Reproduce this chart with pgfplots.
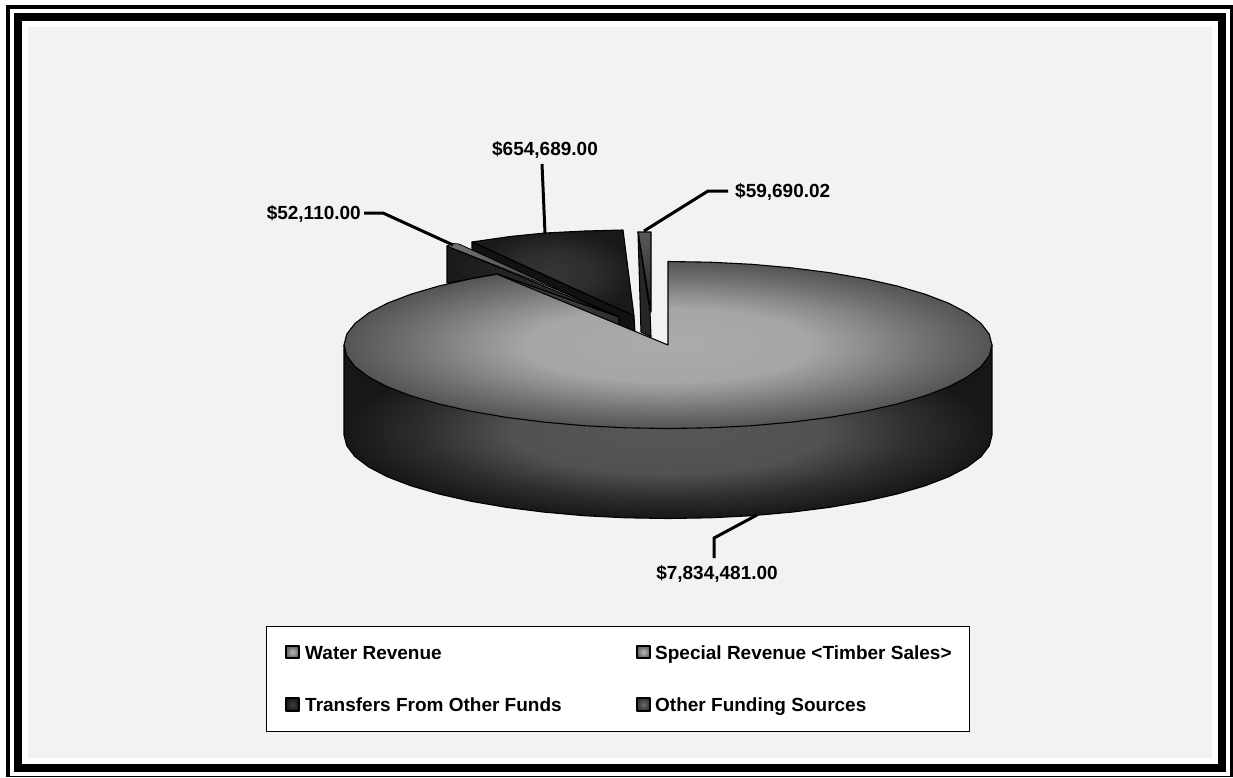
\documentclass[border=0pt]{standalone}
\usepackage{fontspec}
\setmainfont{Liberation Sans}
\usepackage{pgfplots}
\pgfplotsset{compat=1.18}

% gradients of the pie, centre to rim (the path's box reaches 25bp of the shading)
\pgfdeclareradialshading{pietop}{\pgfpointorigin}{gray(0bp)=(0.67); gray(11bp)=(0.65); gray(15bp)=(0.56); gray(20bp)=(0.44); gray(25bp)=(0.33); gray(50bp)=(0.33)}
\pgfdeclareradialshading{pieside}{\pgfpointorigin}{gray(0bp)=(0.34); gray(12bp)=(0.32); gray(19bp)=(0.18); gray(25bp)=(0.09); gray(50bp)=(0.09)}
\pgfdeclareradialshading{darkface}{\pgfpointorigin}{gray(0bp)=(0.21); gray(12bp)=(0.18); gray(25bp)=(0.10); gray(50bp)=(0.10)}
\pgfdeclareradialshading{swa}{\pgfpointorigin}{gray(0bp)=(0.72); gray(25bp)=(0.40); gray(50bp)=(0.40)}
\pgfdeclareradialshading{swc}{\pgfpointorigin}{gray(0bp)=(0.24); gray(25bp)=(0.10); gray(50bp)=(0.10)}
\pgfdeclareradialshading{swd}{\pgfpointorigin}{gray(0bp)=(0.42); gray(25bp)=(0.20); gray(50bp)=(0.20)}

\tikzset{
    outl/.style={draw=black,line width=1.1pt,line join=round},
    lead/.style={draw=black,line width=3pt,line join=miter},
    lab/.style={font=\fontsize{19}{22}\selectfont\bfseries,inner sep=0pt},
}

\begin{document}
\begin{tikzpicture}
\begin{axis}[
    scale only axis,
    width=1233pt,
    height=777pt,
    xmin=0, xmax=1233,
    ymin=0, ymax=777,
    y dir=reverse,
    hide axis,
    clip=true,
]
% frame
\addplot[fill=white,draw=none] coordinates {(0,0) (1233,0) (1233,777) (0,777)} -- cycle;
\addplot[fill=black,draw=none] coordinates {(6,5) (1233,5) (1233,777) (6,777)} -- cycle;
\addplot[fill=white,draw=none] coordinates {(10,9) (1230,9) (1230,776) (10,776)} -- cycle;
\addplot[fill=black,draw=none] coordinates {(14,13) (1226,13) (1226,772) (14,772)} -- cycle;
\addplot[fill=white,draw=none] coordinates {(22,21) (1218,21) (1218,764) (22,764)} -- cycle;
\addplot[fill=black!5,draw=none] coordinates {(28,27) (1212,27) (1212,758) (28,758)} -- cycle;

% Transfers From Other Funds, top face
\addplot[outl,shade,shading=darkface] coordinates {
(472,242) (510,236.5) (545,233) (585,231) (623,230) (634,316)} -- cycle;
% its cut side
\addplot[outl,fill=black!93] coordinates {
(472,242) (472,252) (619,317) (619,327) (635,333) (634,316)} -- cycle;
% Special Revenue, wall
\addplot[outl,left color=black!90,right color=black!78] coordinates {
(447,246) (447,283) (497,274) (619,317)} -- cycle;
\addplot[outl,left color=black!72,right color=black!82] coordinates {
(497,274) (619,317) (619,327)} -- cycle;
% Special Revenue, sliver
\addplot[draw=black,line width=0.8pt,left color=black!55,right color=black!75] coordinates {
(447,246) (453,243.5) (459,244) (575,297)} -- cycle;
% Other Funding Sources
\addplot[outl,top color=black!65,bottom color=black!88] coordinates {
(638,232) (651,232) (651,312)} -- cycle;
\addplot[outl,fill=black!85] coordinates {
(638,232) (650,312) (651,337) (641,332)} -- cycle;

% Water Revenue, side
\addplot[outl,shade,shading=pieside] coordinates {
(344,345) (992,345) (992,435) (989.2,445.9) (981,456.6) (967.3,467) (948.6,476.8)
(925.1,485.8) (897.1,494) (865.3,501.2) (830,507.3) (792,512.1) (751.9,515.7)
(710.3,517.8) (668,518.5) (625.7,517.8) (584.1,515.7) (544,512.1) (506,507.3)
(470.7,501.2) (438.9,494) (410.9,485.8) (387.4,476.8) (368.7,467) (355,456.6)
(346.8,445.9) (344,435)} -- cycle;
% Water Revenue, top face
\addplot[outl,shade,shading=pietop] coordinates {
(668,345) (668,261.5) (710.3,262.2) (751.9,264.3) (792,267.9) (830,272.7)
(865.3,278.8) (897.1,286) (925.1,294.2) (948.6,303.2) (967.3,313) (981,323.4)
(989.2,334.1) (992,345) (989.2,355.9) (981,366.6) (967.3,377) (948.6,386.8)
(925.1,395.8) (897.1,404) (865.3,411.2) (830,417.3) (792,422.1) (751.9,425.7)
(710.3,427.8) (668,428.5) (625.7,427.8) (584.1,425.7) (544,422.1) (506,417.3)
(470.7,411.2) (438.9,404) (410.9,395.8) (387.4,386.8) (368.7,377) (355,366.6)
(346.8,355.9) (344,345) (346.8,334.1) (355,323.4) (368.7,313) (387.4,303.2)
(410.9,294.2) (438.9,286) (470.7,278.8) (497,274.2)} -- cycle;

% leader lines
\addplot[lead] coordinates {(364,213) (383,213) (453,245)};
\addplot[lead] coordinates {(542,164) (545,233)};
\addplot[lead] coordinates {(728,191) (708,191) (644,231)};
\addplot[lead] coordinates {(714,558) (714,538) (757,515)};

% value labels
\node[lab,anchor=east] at (axis cs:361,214) {\$52,110.00};
\node[lab] at (axis cs:545,150) {\$654,689.00};
\node[lab,anchor=west] at (axis cs:735,192) {\$59,690.02};
\node[lab] at (axis cs:717,574) {\$7,834,481.00};

% legend
\addplot[fill=white,draw=black,line width=0.9pt] coordinates {(266,626) (969,626) (969,731) (266,731)} -- cycle;
\addplot[outl,shade,shading=swa] coordinates {(286,646) (299,646) (299,658) (286,658)} -- cycle;
\addplot[outl,shade,shading=swa] coordinates {(637,646) (650,646) (650,658) (637,658)} -- cycle;
\addplot[outl,shade,shading=swc] coordinates {(286,698) (299,698) (299,711) (286,711)} -- cycle;
\addplot[outl,shade,shading=swd] coordinates {(637,698) (650,698) (650,711) (637,711)} -- cycle;
\node[lab,anchor=base west] at (axis cs:305,659) {Water Revenue};
\node[lab,anchor=base west] at (axis cs:655,659) {Special Revenue <Timber Sales>};
\node[lab,anchor=base west] at (axis cs:305,711) {Transfers From Other Funds};
\node[lab,anchor=base west] at (axis cs:655,711) {Other Funding Sources};
\end{axis}
\end{tikzpicture}
\end{document}
